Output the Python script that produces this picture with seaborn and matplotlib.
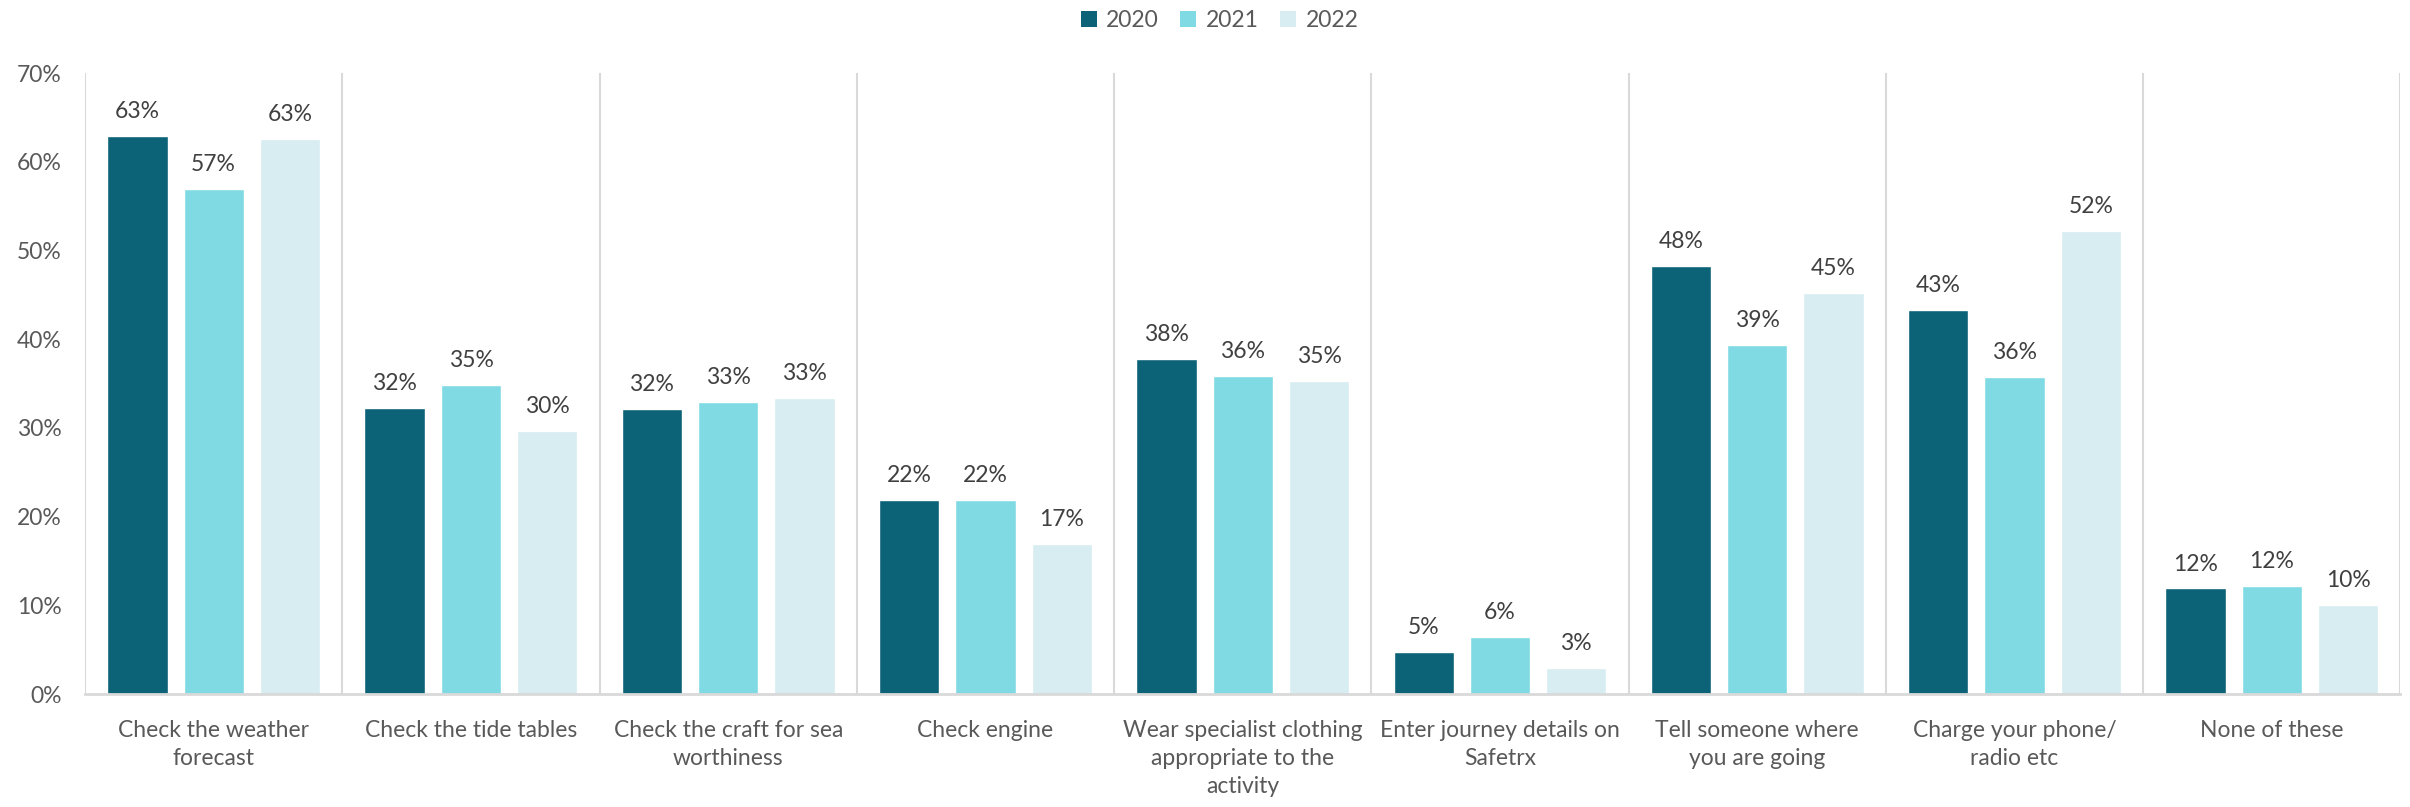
import numpy as np
import pandas as pd
import matplotlib
matplotlib.use("Agg")
import matplotlib.pyplot as plt
import seaborn as sns
from matplotlib.patches import Patch

# INPUT
actions = [
    "Check the weather\nforecast",
    "Check the tide tables",
    "Check the craft for sea\nworthiness",
    "Check engine",
    "Wear specialist clothing\nappropriate to the\nactivity",
    "Enter journey details on\nSafetrx",
    "Tell someone where\nyou are going",
    "Charge your phone/\nradio etc",
    "None of these",
]
years = ["2020", "2021", "2022"]
share_2020 = [62.9, 32.2, 32.1, 21.9, 37.8, 4.7, 48.3, 43.3, 11.9]
share_2021 = [56.9, 34.8, 32.9, 21.9, 35.9, 6.4, 39.3, 35.7, 12.2]
share_2022 = [62.6, 29.7, 33.4, 16.9, 35.3, 2.9, 45.2, 52.2, 10.0]
y_ticks = [0, 10, 20, 30, 40, 50, 60, 70]
colors = ["#0C6277", "#80DAE4", "#D8EDF2"]

df = pd.DataFrame({
    "Action": actions * 3,
    "Share": share_2020 + share_2021 + share_2022,
    "Year": [y for y in years for _ in actions],
})

sns.set_style("white")
plt.rcParams["font.family"] = ["Lato", "DejaVu Sans"]
fs = 16.5

fig = plt.figure(figsize=(24.1, 8.07), dpi=100)
ax = fig.add_axes([0.0353, 0.140, 0.9607, 0.7695])

sns.barplot(data=df, x="Action", y="Share", hue="Year", palette=colors,
            width=0.89, gap=0.21, saturation=1, legend=False, ax=ax)

for c in ax.containers:
    ax.bar_label(c, labels=[f"{v:.0f}%" for v in c.datavalues], padding=10,
                 fontsize=fs, color="#404040")

# category separators
for k in range(len(actions) + 1):
    ax.axvline(k - 0.5, color="#D9D9D9", lw=1.5, zorder=0)

ax.set_xlim(-0.5, len(actions) - 0.5)
ax.set_ylim(0, 70)
ax.set_yticks(y_ticks)
ax.set_yticklabels([f"{t}%" for t in y_ticks])
ax.tick_params(axis="y", labelsize=fs, labelcolor="#595959", length=0, pad=17)
ax.tick_params(axis="x", labelsize=fs, labelcolor="#595959", length=0, pad=19)
for lab in ax.get_xticklabels():
    lab.set_linespacing(1.4)
    lab.set_verticalalignment("top")
ax.set_xlabel("")
ax.set_ylabel("")
for s in ["top", "right", "left"]:
    ax.spines[s].set_visible(False)
ax.spines["bottom"].set_color("#D9D9D9")
ax.spines["bottom"].set_linewidth(2)

handles = [Patch(facecolor=c, edgecolor="none") for c in colors]
fig.legend(handles, years, loc="center", bbox_to_anchor=(0.506, 0.975), ncol=3,
           frameon=False, fontsize=fs, labelcolor="#595959", handlelength=0.7,
           handleheight=0.7, handletextpad=0.4, columnspacing=0.95)

fig.savefig("out.png", dpi=100)
